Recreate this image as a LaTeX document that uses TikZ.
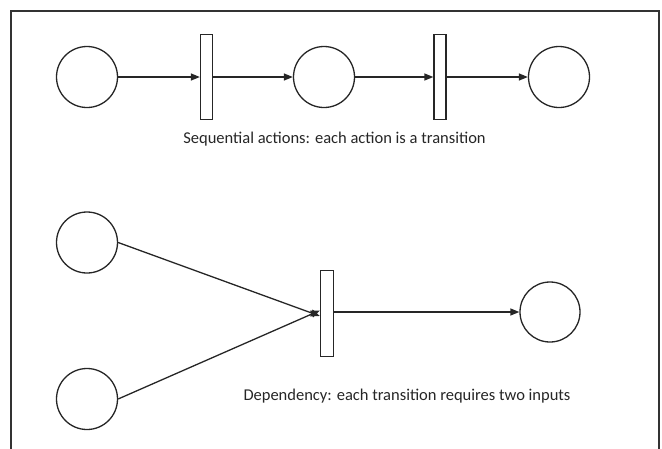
\documentclass[tikz,border=0pt]{standalone}
\usepackage{fontspec}
\setmainfont{Carlito}
\usetikzlibrary{arrows.meta}
\begin{document}
\begin{tikzpicture}[x=1pt,y=-1pt,
  place/.style={draw=black!85,line width=1.3pt,circle,minimum size=61pt,inner sep=0pt},
  trans/.style={draw=black!85,line width=1.3pt,rectangle,minimum width=12pt,minimum height=85pt,inner sep=0pt,fill=white},
  arc/.style={draw=black!85,line width=1.3pt,-{Triangle[length=9pt,width=7pt]}},
  lbl/.style={font=\fontsize{16.5}{19}\selectfont,text=black!85,inner sep=0pt}]
\useasboundingbox (0,0) rectangle (662,448);
\draw[black!80,line width=1.3pt] (11,11) rectangle (659,470);
% top row
\node[place] (c1) at (87,77) {};
\node[trans] (t1) at (206.5,77) {};
\node[place] (c2) at (324,77) {};
\node[trans] (t2) at (440,77) {};
\node[place] (c3) at (559,77) {};
\draw[arc] (c1) -- (t1);
\draw[arc] (t1) -- (c2);
\draw[arc] (c2) -- (t2);
\draw[arc] (t2) -- (c3);
\node[lbl] (l1) at (334.5,139) {Sequential actions: each action is a transition};
% bottom
\node[place] (c4) at (87,242.5) {};
\node[place] (c5) at (87,399) {};
\node[trans,minimum width=13pt,minimum height=86pt] (t3) at (327,313.5) {};
\node[place,minimum size=60pt] (c6) at (550,312) {};
\draw[arc] (c4.east) -- ([yshift=-2.5pt]t3.west);
\draw[arc] (c5.east) -- ([yshift=3pt]t3.west);
\draw[arc] (t3.east |- c6.west) -- (c6.west);
\node[lbl] (l2) at (407,396) {Dependency: each transition requires two inputs};
\end{tikzpicture}
\end{document}
